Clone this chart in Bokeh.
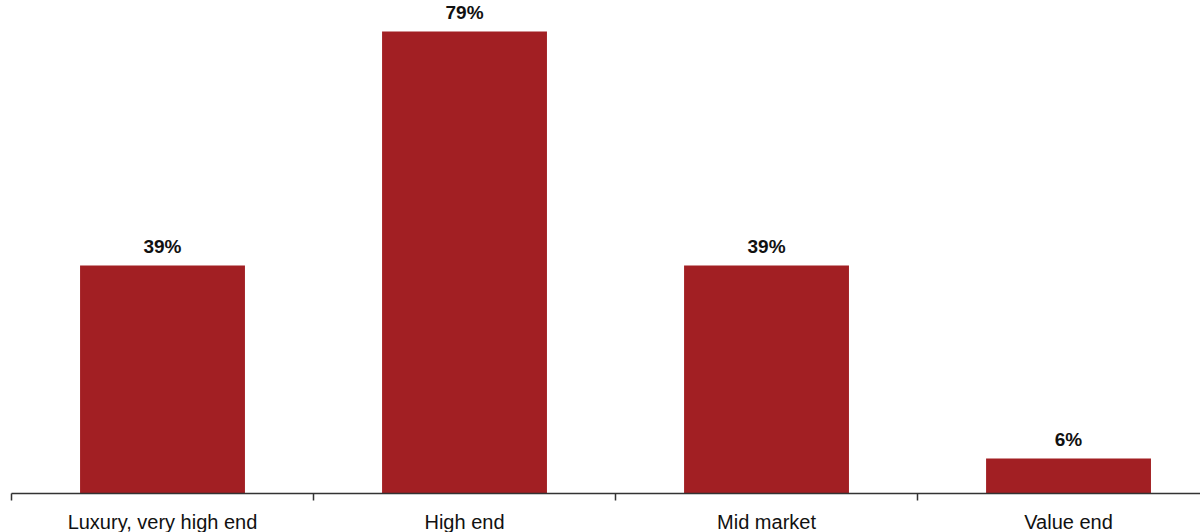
from bokeh.plotting import figure
from bokeh.models import ColumnDataSource, Range1d, FixedTicker
from bokeh.core.properties import value
from bokeh.embed import file_html
from bokeh.resources import INLINE

categories = ["Luxury, very high end", "High end", "Mid market", "Value end"]
shares = [39, 79, 39, 6]

BAR_COLOR = "#A21F23"
FONT = "Liberation Sans"

centers = [i + 0.5 for i in range(len(categories))]
src = ColumnDataSource(dict(
    x=centers,
    y=shares,
    label=[f"{v}%" for v in shares],
))

p = figure(
    frame_width=1189, frame_height=493,
    x_range=Range1d(0, 3.937),
    y_range=Range1d(0, 84.3),
    output_backend="svg", toolbar_location=None,
    min_border_left=11, min_border_right=0,
    min_border_top=0, min_border_bottom=0,
)
p.outline_line_color = None
p.grid.grid_line_color = None
p.yaxis.visible = False
p.background_fill_color = "white"
p.border_fill_color = "white"

p.vbar(x="x", top="y", bottom=0, width=0.546, source=src,
       fill_color=BAR_COLOR, line_color=None)

# value labels sit a few pixels above each bar
p.text(x="x", y="y", text="label", source=src,
       text_font=value(FONT), text_font_size="19px", text_font_style="bold",
       text_align="center", text_baseline="bottom", y_offset=-8,
       text_color="#111111")

xa = p.xaxis[0]
xa.ticker = FixedTicker(ticks=centers, minor_ticks=list(range(len(categories) + 1)))
xa.major_label_overrides = {c: name for c, name in zip(centers, categories)}
xa.major_tick_out = 0
xa.major_tick_in = 0
xa.minor_tick_out = 7
xa.minor_tick_in = 0
xa.minor_tick_line_color = "#333333"
xa.minor_tick_line_width = 1.5
xa.axis_line_color = "#333333"
xa.axis_line_width = 1.5
xa.major_label_standoff = 10
xa.major_label_text_font = FONT
xa.major_label_text_font_size = "20px"
xa.major_label_text_color = "#111111"

open("out.html", "w").write(file_html(p, INLINE))
